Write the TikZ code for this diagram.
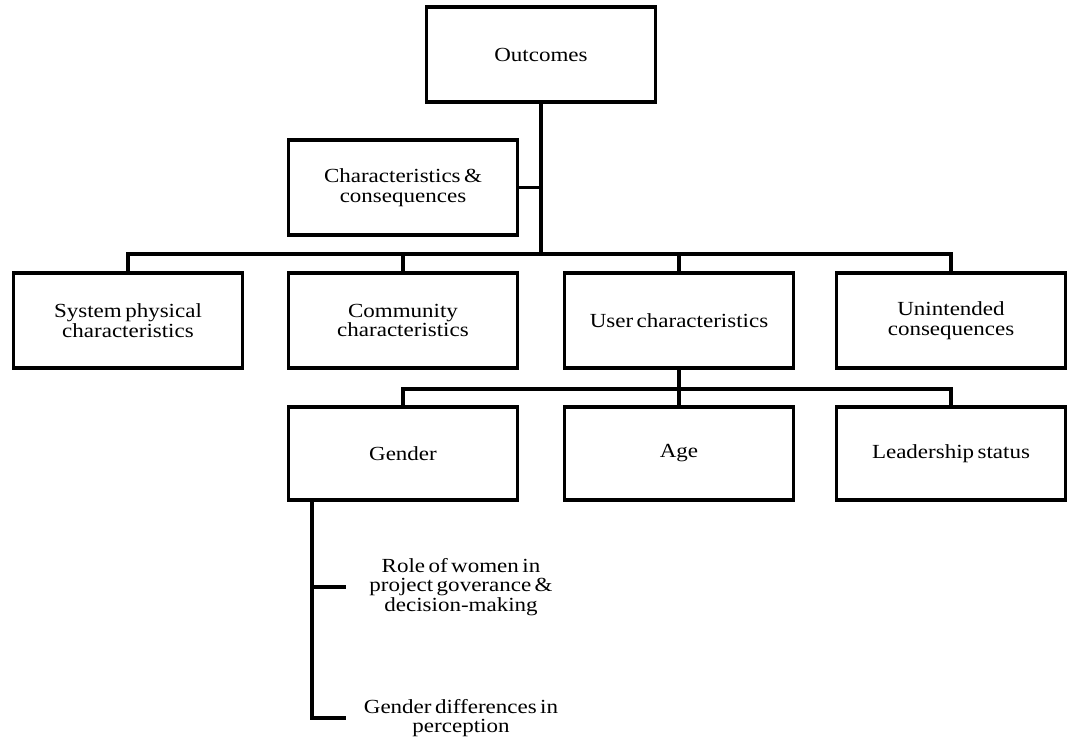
\documentclass[tikz,border=0pt]{standalone}
\usepackage{fontspec}
\setmainfont{Liberation Serif}[FakeStretch=1.15,WordSpace=0.6]
\begin{document}
\begin{tikzpicture}[x=0.75pt,y=-0.75pt,
  line width=2.5pt,
  every node/.style={font=\fontsize{15}{14.6}\selectfont, align=center},
  box/.style={draw, rectangle, inner sep=0pt, outer sep=0pt,
              minimum width=171.75pt, minimum height=71.25pt},
  lowbox/.style={box, minimum height=69.75pt},
  label/.style={inner sep=0pt}]
\useasboundingbox (0,0) rectangle (1067,745);

% top level
\node[box] (out) at (541,54.5) {Outcomes};
\node[box] (cc)  at (403,187.5) {Characteristics \&\\consequences};

% first row of categories
\node[box] (sys) at (128,320.5) {System physical\\characteristics};
\node[box] (com) at (403,320.5) {Community\\characteristics};
\node[box] (usr) at (679,320.5) {User characteristics};
\node[box] (uni) at (951,320.5) {Unintended\\consequences};

% user characteristics breakdown
\node[lowbox] (gen)  at (403,453.5) {Gender};
\node[lowbox] (age)  at (679,453.5) {Age};
\node[lowbox] (lead) at (951,453.5) {Leadership status};

% gender sub-items
\node[label] (t1) at (461,587) {Role of women in\\project goverance \&\\decision-making};
\node[label] (t2) at (461,718) {Gender differences in\\perception};

% bus lines
\coordinate (b1) at (541,254);
\coordinate (b2) at (679,389);
\coordinate (gtop) at (312,500);
\coordinate (e1) at (346,587);
\coordinate (e2) at (346,718);

\draw (out.south) -- (b1);
\draw (cc.east) -- (cc.east -| b1);
\draw (sys.north) |- (b1) -| (uni.north);
\draw (com.north) -- (com.north |- b1);
\draw (usr.north) -- (usr.north |- b1);

\draw (usr.south) -- (age.north);
\draw (gen.north) |- (b2) -| (lead.north);

\draw (gtop) |- (e2);
\draw (gtop |- e1) -- (e1);
\end{tikzpicture}
\end{document}
